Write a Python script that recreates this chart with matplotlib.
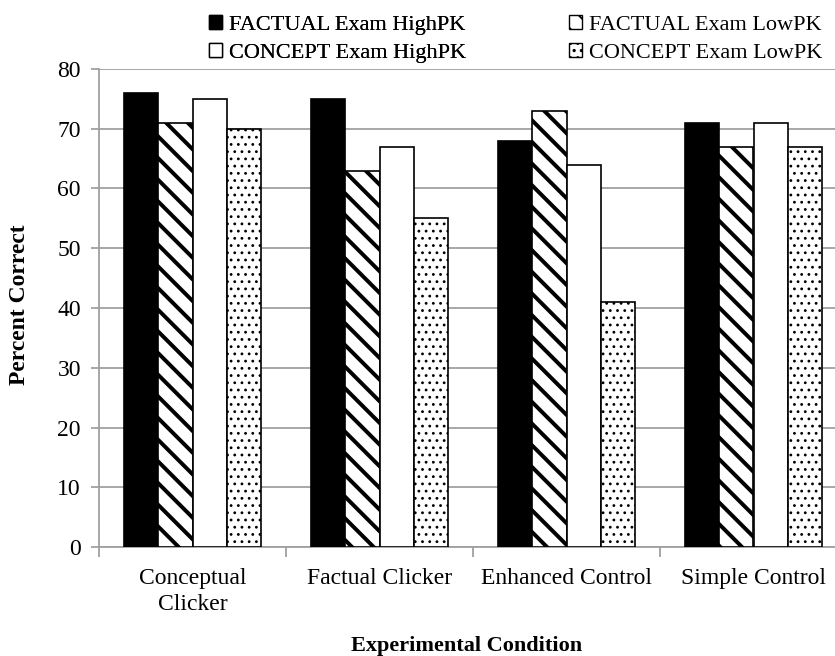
import matplotlib
matplotlib.use("Agg")
import matplotlib.pyplot as plt
import numpy as np
from matplotlib.patches import Patch

categories = ["Conceptual\nClicker", "Factual Clicker", "Enhanced Control", "Simple Control"]
series_names = ["FACTUAL Exam HighPK", "FACTUAL Exam LowPK", "CONCEPT Exam HighPK", "CONCEPT Exam LowPK"]
factual_high = [76, 75, 68, 71]
factual_low = [71, 63, 73, 67]
concept_high = [75, 67, 64, 71]
concept_low = [70, 55, 41, 67]
yticks = [0, 10, 20, 30, 40, 50, 60, 70, 80]

series = [factual_high, factual_low, concept_high, concept_low]
faces = ["black", "white", "white", "white"]
hatches = [None, "\\\\", None, "..."]
hatch_lws = [1.0, 2.2, 1.0, 0.75]

W, H = 835, 656
DPI = 130
S = 100 / DPI  # size scale: values below are given as if at 100 dpi

plt.rcParams["hatch.color"] = "black"
fig = plt.figure(figsize=(W / DPI, H / DPI), dpi=DPI)
ax = fig.add_axes([99 / W, 1 - 547 / H, (847 - 99) / W, (547 - 69) / H])

x = np.arange(len(categories))
bw = 0.182
gray = "#a0a0a0"
serif = "Liberation Serif"
for i, (vals, fc, h, hl) in enumerate(zip(series, faces, hatches, hatch_lws)):
    with plt.rc_context({"hatch.linewidth": hl}):
        bars = ax.bar(x + (i - 1.5) * bw, vals, width=bw, color=fc, edgecolor="black",
                      linewidth=1.2 * S, hatch=h, zorder=3)
        for b in bars:
            if hasattr(b, "set_hatch_linewidth"):
                b.set_hatch_linewidth(hl)

ax.set_ylim(0, 80)
ax.set_yticks(yticks)
ax.set_xlim(-0.5, 3.5)
ax.yaxis.grid(True, color=gray, linewidth=1.3 * S, zorder=0)
ax.set_axisbelow(True)
for s in ["top", "right"]:
    ax.spines[s].set_visible(False)
for s in ["left", "bottom"]:
    ax.spines[s].set_color(gray)
    ax.spines[s].set_linewidth(1.3 * S)

ax.set_xticks(x)
ax.set_xticklabels(categories, fontfamily=serif, fontsize=17 * S, linespacing=1.3)
ax.tick_params(axis="x", length=0, pad=15 * S)
ax.set_xticks(np.arange(-0.5, 4.0, 1.0), minor=True)
ax.tick_params(axis="x", which="minor", length=7 * S, color=gray, width=1.3 * S)
ax.tick_params(axis="y", length=6 * S, color=gray, width=1.3 * S, pad=7 * S, labelsize=17 * S)
for t in ax.get_yticklabels():
    t.set_fontfamily(serif)

ax.set_ylabel("Percent Correct", fontfamily=serif, fontweight="bold", fontsize=17 * S)
ax.yaxis.set_label_coords(-(99 - 20) / (847 - 99), (547 - 305) / (547 - 69))
ax.yaxis.label.set_verticalalignment("center")
ax.set_xlabel("Experimental Condition", fontfamily=serif, fontweight="bold", fontsize=16 * S)
ax.xaxis.set_label_coords((467 - 99) / (847 - 99), -(646 - 547) / (547 - 69))
ax.xaxis.label.set_verticalalignment("center")

handles = [Patch(facecolor=fc, edgecolor="black", hatch=h, linewidth=1.0 * S)
           for fc, h in zip(faces, hatches)]
legkw = dict(loc="upper left", frameon=False, prop={"family": serif, "size": 16 * S},
             handlelength=0.6, handleheight=0.6, handletextpad=0.3, labelspacing=0.35, borderpad=0)
leg1 = fig.legend([handles[0], handles[2]], [series_names[0], series_names[2]],
                  bbox_to_anchor=(198 / W, 1 - 4 / H), **legkw)
fig.add_artist(leg1)
leg2 = fig.legend([handles[1], handles[3]], [series_names[1], series_names[3]],
                  bbox_to_anchor=(558 / W, 1 - 4 / H), **legkw)

fig.savefig("out.png", dpi=DPI)
